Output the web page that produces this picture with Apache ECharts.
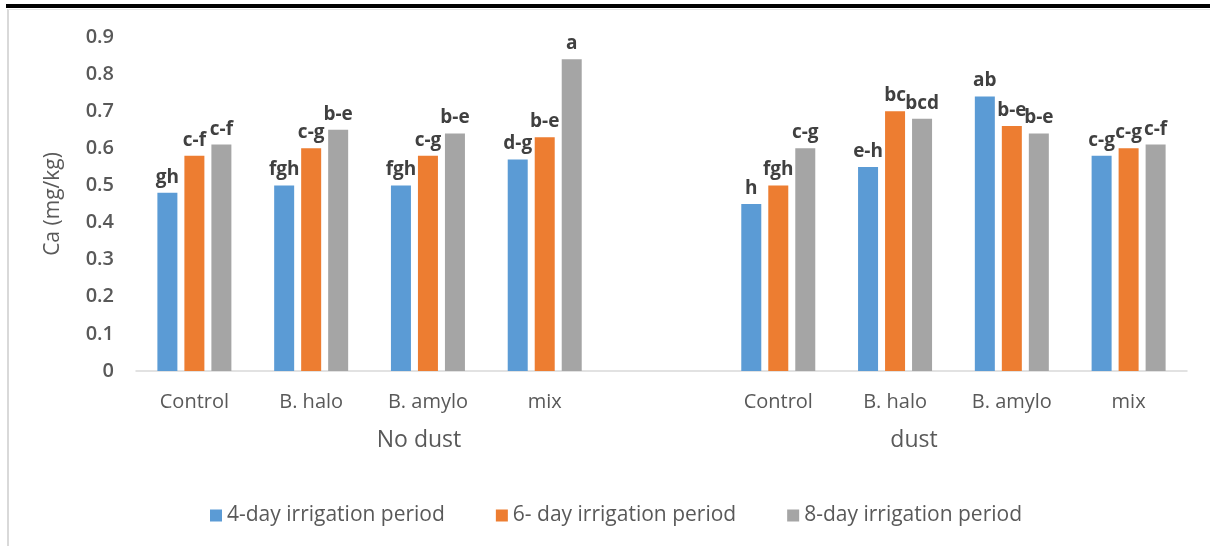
<!DOCTYPE html>
<html>
<head>
<meta charset="utf-8">
<script src="https://cdn.jsdelivr.net/npm/echarts@6/dist/echarts.min.js"></script>
<style>html,body{margin:0;padding:0;background:#fff}#c{width:1210px;height:546px}</style>
</head>
<body>
<div id="c"></div>
<script>
const categories = ['Control', 'B. halo', 'B. amylo', 'mix', '', 'Control', 'B. halo', 'B. amylo', 'mix'];
const groupNames = ['No dust', 'dust'];
const seriesNames = ['4-day irrigation period', '6- day irrigation period', '8-day irrigation period'];
const day4 = [0.48, 0.50, 0.50, 0.57, null, 0.45, 0.55, 0.74, 0.58];
const day6 = [0.58, 0.60, 0.58, 0.63, null, 0.50, 0.70, 0.66, 0.60];
const day8 = [0.61, 0.65, 0.64, 0.84, null, 0.60, 0.68, 0.64, 0.61];
const letters4 = ['gh', 'fgh', 'fgh', 'd-g', '', 'h', 'e-h', 'ab', 'c-g'];
const letters6 = ['c-f', 'c-g', 'c-g', 'b-e', '', 'fgh', 'bc', 'b-e', 'c-g'];
const letters8 = ['c-f', 'b-e', 'b-e', 'a', '', 'c-g', 'bcd', 'b-e', 'c-f'];
const yTicks = [0, 0.1, 0.2, 0.3, 0.4, 0.5, 0.6, 0.7, 0.8, 0.9];

const colors = ['#5b9bd5', '#ed7d31', '#a5a5a5'];
const FONT = '"Open Sans", sans-serif';
const chart = echarts.init(document.getElementById('c'));

function mk(name, vals, letters, color) {
  return {
    name: name, type: 'bar', data: vals, barWidth: 20, barGap: '35%',
    itemStyle: { color: color },
    label: {
      show: true, position: 'top', distance: 6,
      formatter: p => letters[p.dataIndex],
      fontFamily: FONT, fontWeight: 'bold', fontSize: 19, color: '#404040'
    }
  };
}

chart.setOption({
  animation: false,
  color: colors,
  grid: { left: 136, right: 23, top: 37, bottom: 175 },
  xAxis: {
    type: 'category', data: categories,
    axisLine: { lineStyle: { color: '#d9d9d9', width: 1.5 } },
    axisTick: { show: false },
    axisLabel: { fontFamily: FONT, fontSize: 20, fontWeight: 500, color: '#595959', margin: 21, interval: 0 }
  },
  yAxis: {
    type: 'value', min: 0, max: 0.9, interval: 0.1,
    name: 'Ca (mg/kg)', nameLocation: 'middle', nameGap: 72,
    nameTextStyle: { fontFamily: FONT, fontSize: 21, color: '#595959' },
    splitLine: { show: false },
    axisLine: { show: false }, axisTick: { show: false },
    axisLabel: {
      fontFamily: FONT, fontSize: 20, fontWeight: 600, color: '#595959', margin: 22,
      formatter: v => { const t = yTicks.find(x => Math.abs(x - v) < 1e-9); return t === undefined ? '' : String(t); }
    }
  },
  legend: {
    left: 205, top: 500, itemWidth: 12, itemHeight: 12, itemGap: 51,
    icon: 'rect',
    textStyle: { fontFamily: FONT, fontSize: 21, fontWeight: 500, color: '#595959' },
    data: seriesNames
  },
  graphic: [
    { type: 'rect', left: 6, top: 4, shape: { width: 1204, height: 4 }, style: { fill: '#000' } },
    { type: 'line', shape: { x1: 8, y1: 9, x2: 8, y2: 546 }, style: { stroke: '#d9d9d9', lineWidth: 2 } },
    { type: 'line', shape: { x1: 8, y1: 9.5, x2: 1210, y2: 9.5 }, style: { stroke: '#e6e6e6', lineWidth: 1 } },
    { type: 'text', x: 419, y: 440, style: { text: groupNames[0], fontFamily: FONT, fontSize: 23, fontWeight: 500, fill: '#595959', align: 'center', verticalAlign: 'middle' } },
    { type: 'text', x: 914, y: 440, style: { text: groupNames[1], fontFamily: FONT, fontSize: 23, fontWeight: 500, fill: '#595959', align: 'center', verticalAlign: 'middle' } }
  ],
  series: [
    mk(seriesNames[0], day4, letters4, colors[0]),
    mk(seriesNames[1], day6, letters6, colors[1]),
    mk(seriesNames[2], day8, letters8, colors[2])
  ]
});
</script>
</body>
</html>
